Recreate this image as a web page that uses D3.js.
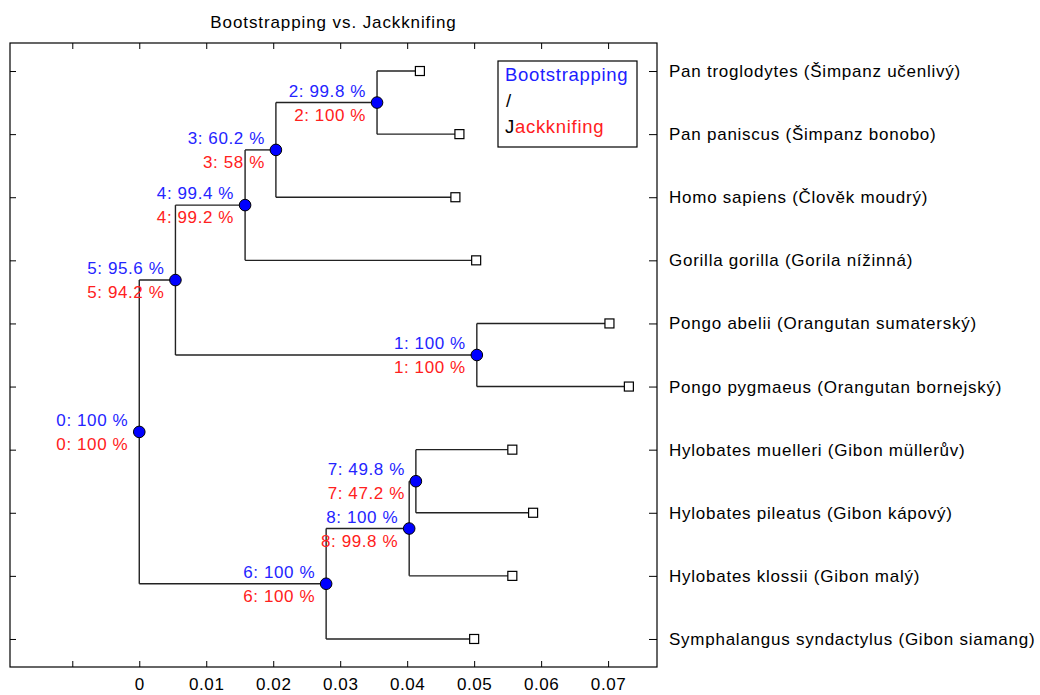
<!DOCTYPE html>
<html>
<head>
<meta charset="utf-8">
<script src="https://cdn.jsdelivr.net/npm/d3@7"></script>
<style>
  body { margin: 0; background: #fff; }
  svg text { font-family: "Liberation Sans", Arial, sans-serif; }
</style>
</head>
<body>
<svg width="1040" height="695"></svg>
<script>
// leaves, top to bottom
const leafNames = [
  "Pan troglodytes (Šimpanz učenlivý)",
  "Pan paniscus (Šimpanz bonobo)",
  "Homo sapiens (Člověk moudrý)",
  "Gorilla gorilla (Gorila nížinná)",
  "Pongo abelii (Orangutan sumaterský)",
  "Pongo pygmaeus (Orangutan bornejský)",
  "Hylobates muelleri (Gibon müllerův)",
  "Hylobates pileatus (Gibon kápový)",
  "Hylobates klossii (Gibon malý)",
  "Symphalangus syndactylus (Gibon siamang)"
];
// distance from root for each leaf
const leafDist = [0.0419, 0.0478, 0.0472, 0.0503, 0.0702, 0.0731, 0.0557, 0.0588, 0.0557, 0.0500];

// internal nodes 0..8
const nodeDist = [0, 0.0504, 0.0355, 0.0204, 0.0158, 0.0054, 0.0279, 0.0413, 0.0403];
const nodeKids = [
  ["n5", "n6"], ["L4", "L5"], ["L0", "L1"], ["n2", "L2"], ["n3", "L3"],
  ["n4", "n1"], ["n8", "L9"], ["L6", "L7"], ["n7", "L8"]
];
const bootstrap = [100, 100, 99.8, 60.2, 99.4, 95.6, 100, 49.8, 100];
const jackknife = [100, 100, 100, 58, 99.2, 94.2, 100, 47.2, 99.8];

const xTicks = [-0.01, 0, 0.01, 0.02, 0.03, 0.04, 0.05, 0.06, 0.07];

const svg = d3.select("svg");
const pL = 10, pR = 657, pT = 43, pB = 667;

const x = d3.scaleLinear().domain([-0.0193, 0.0773]).range([pL, pR]);
const y = d3.scaleLinear().domain([0.556, 10.444]).range([pT, pB]);

// node positions
function pos(id) {
  if (id[0] === "L") {
    const i = +id.slice(1);
    return {x: leafDist[i], y: i + 1};
  }
  const k = +id.slice(1);
  const ys = nodeKids[k].map(c => pos(c).y);
  return {x: nodeDist[k], y: d3.mean(ys)};
}

const txt = s => s.style("font-size", "17px").style("letter-spacing", "0.6px")
  .style("font-family", "Liberation Sans, Arial, sans-serif");

// title
svg.append("text")
  .attr("x", (pL + pR) / 2).attr("y", 28)
  .attr("text-anchor", "middle")
  .call(txt).style("letter-spacing", "0.9px")
  .text("Bootstrapping vs. Jackknifing");

// frame
svg.append("rect")
  .attr("x", pL).attr("y", pT)
  .attr("width", pR - pL).attr("height", pB - pT)
  .attr("fill", "none").attr("stroke", "#000").attr("stroke-width", 1.2);

// axes
const tickFmt = d => d < 0 ? "" : d3.format("")(+d.toFixed(2));
svg.append("g")
  .attr("transform", `translate(0,${pB})`)
  .call(d3.axisBottom(x).tickValues(xTicks).tickSizeInner(-6).tickSizeOuter(0).tickPadding(11).tickFormat(tickFmt))
  .call(g => g.select(".domain").remove())
  .call(g => g.selectAll("text").call(txt));
svg.append("g")
  .attr("transform", `translate(0,${pT})`)
  .call(d3.axisTop(x).tickValues(xTicks).tickSizeInner(-6).tickSizeOuter(0).tickFormat(""))
  .call(g => g.select(".domain").remove());

const leafIdx = d3.range(1, leafNames.length + 1);
svg.append("g")
  .attr("transform", `translate(${pL},0)`)
  .call(d3.axisLeft(y).tickValues(leafIdx).tickSizeInner(-6).tickSizeOuter(0).tickFormat(""))
  .call(g => g.select(".domain").remove());
svg.append("g")
  .attr("transform", `translate(${pR},0)`)
  .call(d3.axisRight(y).tickValues(leafIdx).tickSizeInner(-8).tickSizeOuter(0).tickPadding(12)
    .tickFormat(d => leafNames[d - 1]))
  .call(g => g.select(".domain").remove())
  .call(g => g.selectAll("text").attr("fill", "#000").call(txt).style("letter-spacing", "0.75px"));

// branches
const gTree = svg.append("g").attr("stroke", "#222").attr("stroke-width", 1.4).attr("fill", "none");
nodeKids.forEach((kids, k) => {
  const p = pos("n" + k);
  const cs = kids.map(pos);
  gTree.append("line")
    .attr("x1", x(p.x)).attr("x2", x(p.x))
    .attr("y1", y(d3.min(cs, c => c.y))).attr("y2", y(d3.max(cs, c => c.y)));
  cs.forEach(c => {
    gTree.append("line")
      .attr("x1", x(p.x)).attr("x2", x(c.x))
      .attr("y1", y(c.y)).attr("y2", y(c.y));
  });
});

// leaf markers
svg.append("g").selectAll("rect")
  .data(leafDist)
  .join("rect")
  .attr("x", d => x(d) - 4.5).attr("y", (d, i) => y(i + 1) - 4.5)
  .attr("width", 9).attr("height", 9)
  .attr("fill", "#fff").attr("stroke", "#000").attr("stroke-width", 1.2);

// node markers and labels
const nodes = nodeDist.map((d, k) => ({k, ...pos("n" + k)}));
svg.append("g").selectAll("circle")
  .data(nodes)
  .join("circle")
  .attr("cx", d => x(d.x)).attr("cy", d => y(d.y)).attr("r", 5.8)
  .attr("fill", "#0000ff").attr("stroke", "#000").attr("stroke-width", 1);

const gLab = svg.append("g").attr("text-anchor", "end");
gLab.selectAll("text.bs")
  .data(nodes)
  .join("text")
  .attr("class", "bs")
  .attr("x", d => x(d.x) - 11).attr("y", d => y(d.y) - 6)
  .attr("fill", "#2424ff")
  .call(txt)
  .text(d => `${d.k}: ${bootstrap[d.k]} %`);
gLab.selectAll("text.jk")
  .data(nodes)
  .join("text")
  .attr("class", "jk")
  .attr("x", d => x(d.x) - 11).attr("y", d => y(d.y) + 18)
  .attr("fill", "#ff2020")
  .call(txt)
  .text(d => `${d.k}: ${jackknife[d.k]} %`);

// legend box
const lg = svg.append("g");
lg.append("rect")
  .attr("x", 498).attr("y", 61).attr("width", 139).attr("height", 86)
  .attr("fill", "#fff").attr("stroke", "#000").attr("stroke-width", 1.2);
const lgText = lg.append("g").style("font-family", "Lato, 'Open Sans', sans-serif")
  .style("font-size", "18.5px").style("letter-spacing", "0.7px");
lgText.append("text").attr("x", 505).attr("y", 81).attr("fill", "#2020ff").text("Bootstrapping");
lgText.append("text").attr("x", 506).attr("y", 107).attr("fill", "#000").text("/");
const jt = lgText.append("text").attr("x", 505).attr("y", 133);
jt.append("tspan").attr("fill", "#000").text("J");
jt.append("tspan").attr("fill", "#ff2020").text("ackknifing");
</script>
</body>
</html>
